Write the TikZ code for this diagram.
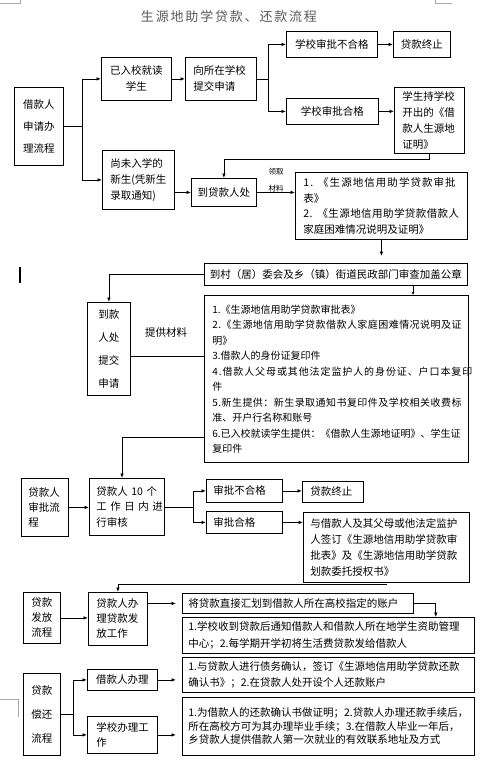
\documentclass[tikz,border=0pt]{standalone}
\usepackage{fontspec}
\newfontfamily\cjk{Noto Sans CJK SC}
\newfontfamily\cjktitle[LetterSpace=14]{Noto Sans CJK SC}
\usetikzlibrary{arrows.meta,calc}
\newcommand\ls[2]{{\addfontfeature{LetterSpace=#1}#2}}
\newcommand\mybox[8][]{%
  \pgfmathsetmacro\bw{#5-#3}%
  \pgfmathsetmacro\bh{#6-#4}%
  \pgfmathsetmacro\tw{#5-#3-2*#7}%
  \node[box, minimum width=\bw pt, minimum height=\bh pt, text width=\tw pt, inner xsep=#7pt, #1] (#2) at (#3,#4) {#8};}
\begin{document}
\begin{tikzpicture}[x=1pt,y=-1pt,
  box/.style={draw, line width=0.8pt, inner ysep=0pt, anchor=north west, align=left,
    font=\cjk\fontsize{10.5}{16}\selectfont},
  arr/.style={-{Latex[length=4.5pt,width=3.6pt]}, line width=0.8pt},
  ln/.style={line width=0.8pt},
  lbl/.style={inner sep=0pt, font=\cjk\fontsize{10.5}{12}\selectfont},
  sml/.style={inner sep=0pt, font=\cjk\fontsize{7.5}{9}\selectfont},
  marks/.style={line width=0.5pt, draw=black!35}]
\fill[white] (0,0) rectangle (489,764);
\useasboundingbox (0,0) rectangle (489,764);

% title
\node[inner sep=0pt, font=\cjktitle\fontsize{13}{15}\selectfont, text=black!65] (title) at (229,17) {生源地助学贷款、还款流程};

% page marks
\draw[marks] (0,3) -- (20,3) -- (20,0);
\draw[marks] (435,0) -- (435,3) -- (452,3);
\draw[marks] (0,699) -- (18,699) -- (18,717);
\draw[line width=1.6pt] (20,267) -- (20,283);

% application part
\mybox[align=center, font=\cjk\fontsize{10.5}{22}\selectfont]{b1}{14}{87}{63}{165}{3}{借款人\\申请办\\理流程}
\mybox[align=center]{b2}{101}{57}{171}{100}{3}{已入校就读\\学生}
\mybox{b3}{185}{57}{256}{100}{8}{向所在学校\\提交申请}
\mybox[align=center]{b4}{286}{31}{377}{57}{3}{学校审批不合格}
\mybox[align=center]{b5}{393}{31}{450}{57}{3}{贷款终止}
\mybox[align=center]{b6}{286}{98}{378}{124}{3}{学校审批合格}
\mybox{b7}{394}{87}{464}{153}{8}{学生持学校\\开出的《借\\款人生源地\\证明》}
\mybox{b8}{102}{150}{174}{209}{8}{尚未入学的\\新生(凭新生\\录取通知)}
\mybox[align=center]{b9}{191}{178}{256}{206}{3}{到贷款人处}
\mybox[font=\cjk\fontsize{10.5}{15.5}\selectfont]{b10}{295}{172}{467}{239}{8}{\ls{10}{1.\hspace{5pt}《生源地信用助学贷款审批}\\表》\\\ls{4}{2.\hspace{5pt}《生源地信用助学贷款借款人}\\家庭困难情况说明及证明》}
\mybox[align=center]{b11}{204}{263}{467}{285}{3}{到村（居）委会及乡（镇）街道民政部门审查加盖公章}
\mybox[align=center, font=\cjk\fontsize{10.5}{23}\selectfont]{b12}{87}{302}{130}{395}{2}{到款\\人处\\提交\\申请}
\mybox[font=\cjk\fontsize{10}{15.5}\selectfont]{b13}{204}{295}{468}{462}{8}{1.《生源地信用助学贷款审批表》\\\ls{4.5}{2.《生源地信用助学贷款借款人家庭困难情况说明及证}\\明》\\3.借款人的身份证复印件\\\ls{9}{4.借款人父母或其他法定监护人的身份证、户口本复印}\\件\\\ls{4.5}{5.新生提供：新生录取通知书复印件及学校相关收费标}\\准、开户行名称和账号\\6.已入校就读学生提供：《借款人生源地证明》、学生证\\复印件}

% approval part
\mybox[font=\cjk\fontsize{10.5}{15}\selectfont]{b14}{21}{478}{68}{536}{7}{贷款人\\审批流\\程}
\mybox[font=\cjk\fontsize{10.5}{15.5}\selectfont]{b15}{89}{478}{164}{535}{7}{\mbox{贷款人 10 个}\\\mbox{工 作 日 内 进}\\行审核}
\mybox{b16}{206}{479}{282}{502}{7}{审批不合格}
\mybox{b17}{302}{481}{363}{502}{8}{贷款终止}
\mybox{b18}{206}{511}{282}{533}{7}{审批合格}
\mybox{b19}{303}{512}{469}{582}{7}{与借款人及其父母或他法定监护\\人签订《生源地信用助学贷款审\\批表》及《生源地信用助学贷款\\划款委托授权书》}

% disbursement part
\mybox[align=center, font=\cjk\fontsize{10.5}{15}\selectfont]{b20}{23}{592}{60}{643}{3}{贷款\\发放\\流程}
\mybox[font=\cjk\fontsize{10.5}{15}\selectfont]{b21}{88}{592}{147}{645}{8}{贷款人办\\理贷款发\\放工作}
\mybox{b22}{182}{593}{413}{613}{6}{将贷款直接汇划到借款人所在高校指定的账户}
\mybox[font=\cjk\fontsize{10.5}{17}\selectfont]{b23}{182}{617}{474}{653}{6}{1.学校收到贷款后通知借款人和借款人所在地学生资助管理\\中心；2.每学期开学初将生活费贷款发给借款人}

% repayment part
\mybox[align=center, font=\cjk\fontsize{10.5}{24}\selectfont]{b24}{23}{673}{60}{755}{3}{贷款\\偿还\\流程}
\mybox[align=center]{b25}{87}{669}{157}{690}{3}{借款人办理}
\mybox{b26}{182}{657}{474}{692}{6}{1.与贷款人进行债务确认，签订《生源地信用助学贷款还款\\确认书》；2.在贷款人处开设个人还款账户}
\mybox[font=\cjk\fontsize{10.5}{15}\selectfont]{b27}{87}{716}{157}{753}{9}{学校办理工\\作}
\mybox[font=\cjk\fontsize{10.5}{13.5}\selectfont]{b28}{182}{697}{474}{755}{6}{1.为借款人的还款确认书做证明；2.贷款人办理还款手续后，\\所在高校方可为其办理毕业手续；3.在借款人毕业一年后，\\乡贷款人提供借款人第一次就业的有效联系地址及方式}

% connectors: application
\draw[ln] (b1.east) -- ++(19,0) coordinate (s1);
\draw[arr] (s1) |- (b2.west);
\draw[arr] (s1) |- (b8.west);
\draw[arr] (b2.east) -- (b3.west);
\draw[ln] (b3.east) -- ++(12,0) coordinate (s3);
\draw[arr] (s3) |- (b4.west);
\draw[arr] (s3) |- (b6.west);
\draw[arr] (b4.east) -- (b5.west);
\draw[arr] (b6.east) -- (b6.east -| b7.west);
\draw[arr] (b7.south) -- ++(0,6) -| (b9.north);
\draw[arr] (b8.east |- b9.west) -- (b9.west);
\draw[arr] (b9.east) -- (b9.east -| b10.west);
\node[sml] (lq1) at (276,172) {领取};
\node[sml] (lq2) at (276,189) {材料};
\draw[arr, shorten >=7pt] (b10.south) -- (b10.south |- b11.north);
\coordinate (m11) at ($(b11.south west)+(209,0)$);
\draw[line width=0.6pt, -{Latex[length=3pt,width=3pt]}] (m11) -- (m11 |- b13.north);
\draw[arr] (b11.west) -| (b12.north);
\coordinate (c12) at ($(b12.east)+(0,7)$);
\draw[ln] (c12) -- (c12 -| b13.west);
\node[lbl] (tg) at (166,333) {提供材料};
\coordinate (c13) at (122,437);
\draw[ln] (b13.west |- c13) -- (c13);
\draw[arr] (c13) -- (c13 |- b15.north);

% connectors: approval
\draw[arr] (b14.east) -- (b14.east -| b15.west);
\draw[ln] (b15.east) -- ++(29,0) coordinate (s15);
\draw[arr] (s15) |- (b16.west);
\draw[arr] (s15) |- (b18.west);
\draw[arr] (b16.east) -- (b16.east -| b17.west);
\draw[arr] (b18.east) -- (b18.east -| b19.west);
\coordinate (c19) at (387,584);
\draw[arr] (c19) -| (b21.north);

% connectors: disbursement
\draw[arr] (b20.east) -- (b20.east -| b21.west);
\draw[arr, shorten >=6pt] (b21.east |- b22.west) -- (b22.west);
\draw[arr] (b22.east) -- ++(22,0) coordinate (s22) -- (s22 |- b23.north);

% connectors: repayment
\draw[ln] (b24.east) -- ++(13,0) coordinate (s24);
\draw[arr] (s24) |- (b25.west);
\draw[arr] (s24) |- (b27.west);
\draw[arr, shorten >=6pt] (b25.east) -- (b25.east -| b26.west);
\draw[arr, shorten >=6pt] (b27.east) -- (b27.east -| b28.west);
\end{tikzpicture}
\end{document}
